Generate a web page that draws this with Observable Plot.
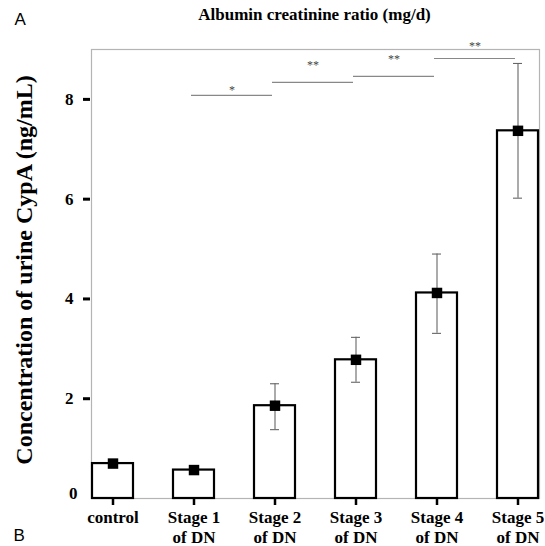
<!DOCTYPE html>
<html><head><meta charset="utf-8">
<script src="https://cdn.jsdelivr.net/npm/d3@7"></script>
<script src="https://cdn.jsdelivr.net/npm/@observablehq/plot@0.6"></script>
<style>body{margin:0;background:#fff} #chart{width:545px;height:546px}</style>
</head><body><div id="chart"></div>
<script>
// ---- data ----
const categories = ["control", "Stage 1\nof DN", "Stage 2\nof DN", "Stage 3\nof DN", "Stage 4\nof DN", "Stage 5\nof DN"];
const means   = [0.70, 0.57, 1.86, 2.78, 4.12, 7.37];
const errLow  = [null, null, 1.38, 2.33, 3.31, 6.02];
const errHigh = [null, null, 2.30, 3.23, 4.90, 8.72];
const yTicksMarked = [2, 4, 6, 8];
const yTickZero = [0];
const sigFrom = ["Stage 1\nof DN", "Stage 2\nof DN", "Stage 3\nof DN", "Stage 4\nof DN"];
const sigTo   = ["Stage 2\nof DN", "Stage 3\nof DN", "Stage 4\nof DN", "Stage 5\nof DN"];
const sigY     = [8.08, 8.34, 8.46, 8.82];
const sigStarY = [8.22, 8.72, 8.84, 9.10];
const sigLabels = ["*", "**", "**", "**"];
const titleText = "Albumin creatinine ratio (mg/d)";
const yLabelText = "Concentration of urine CypA (ng/mL)";
const panelTop = ["A"];
const panelBottom = ["B"];

const bars = categories.map((c, i) => ({cat: c, mean: means[i], lo: errLow[i], hi: errHigh[i]}));
const errs = bars.filter(d => d.lo != null);
const sigs = sigFrom.map((f, i) => ({from: f, to: sigTo[i], y: sigY[i], sy: sigStarY[i], label: sigLabels[i]}));

const serif = "'Liberation Serif', 'Times New Roman', serif";
const sans = "'Liberation Sans', Arial, sans-serif";

const chart = Plot.plot({
  width: 545,
  height: 546,
  marginLeft: 91,
  marginRight: 6,
  marginTop: 49,
  marginBottom: 48,
  style: {fontFamily: serif, fontWeight: "bold", background: "#fff", overflow: "visible"},
  x: {domain: categories, paddingInner: 0.5, paddingOuter: 0, label: null},
  y: {domain: [0, 9], label: null},
  marks: [
    Plot.frame({stroke: "#b4b4b4", strokeWidth: 1.2}),
    Plot.barY(bars, {x: "cat", y: "mean", fill: "white", stroke: "black", strokeWidth: 2.2}),
    Plot.ruleX(errs, {x: "cat", y1: "lo", y2: "hi", stroke: "#666", strokeWidth: 1.1}),
    Plot.tickY(errs, {x: "cat", y: "lo", stroke: "#666", strokeWidth: 1.1, insetLeft: 16, insetRight: 16}),
    Plot.tickY(errs, {x: "cat", y: "hi", stroke: "#666", strokeWidth: 1.1, insetLeft: 16, insetRight: 16}),
    Plot.dot(bars, {x: "cat", y: "mean", symbol: "square", r: 5.9, fill: "black", stroke: "none"}),
    Plot.link(sigs, {x1: "from", x2: "to", y1: "y", y2: "y", stroke: "#888", strokeWidth: 1.2, dx: -3}),
    Plot.text(sigs, {x: "from", y: "sy", text: "label", dx: 38, dy: 2, fontSize: 12, fill: "#444", fontWeight: "normal"}),
    Plot.axisY({ticks: yTicksMarked, tickSize: 7, tickPadding: 10, dx: -1, strokeWidth: 3, fontSize: 17, fontWeight: "bold", label: null}),
    Plot.axisY({ticks: yTickZero, tickSize: 0, tickPadding: 14, dy: -5, fontSize: 17, fontWeight: "bold", label: null}),
    Plot.axisX({tickSize: 7, tickPadding: 3, strokeWidth: 2.5, fontSize: 17, fontWeight: "bold", lineHeight: 1.18, label: null}),
    Plot.text([yLabelText], {frameAnchor: "left", textAnchor: "middle", lineAnchor: "middle", rotate: -90, dx: -67, dy: -4, fontSize: 24, fontWeight: "bold", fill: "black"}),
    Plot.text([titleText], {frameAnchor: "top", textAnchor: "middle", lineAnchor: "middle", dx: -1, dy: -35, fontSize: 17, fontWeight: "bold", fill: "black"}),
    Plot.text(panelTop, {frameAnchor: "top-left", textAnchor: "start", lineAnchor: "middle", dx: -77, dy: -30, fontSize: 17, fontWeight: "normal", fontFamily: sans, fill: "black"}),
    Plot.text(panelBottom, {frameAnchor: "bottom-left", textAnchor: "start", lineAnchor: "middle", dx: -78, dy: 37, fontSize: 17, fontWeight: "normal", fontFamily: sans, fill: "black"})
  ]
});
document.getElementById("chart").appendChild(chart);
</script>
</body></html>
